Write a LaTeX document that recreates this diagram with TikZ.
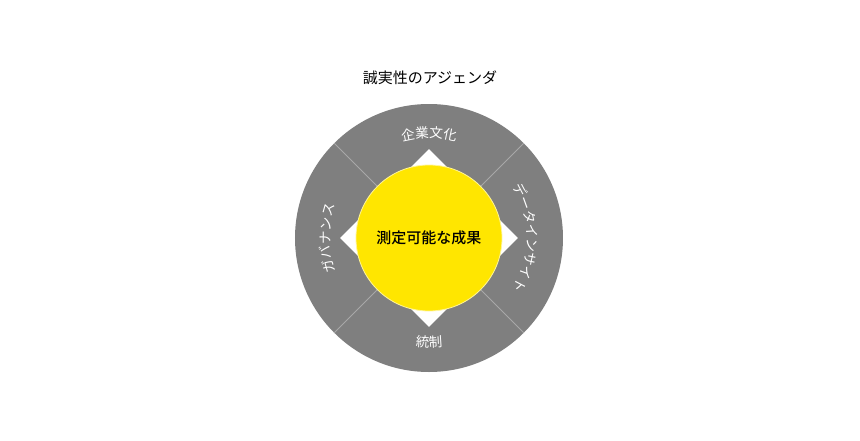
\documentclass[tikz,border=0pt]{standalone}
\usepackage{fontspec}
\setmainfont{Noto Sans CJK JP}
\newfontfamily\mediumfont{Noto Sans CJK JP Medium}
\usepackage{xcolor}
\usetikzlibrary{shapes.geometric, decorations.text}
\definecolor{ringgray}{RGB}{127,127,127}
\definecolor{dividergray}{RGB}{168,168,168}
\definecolor{coreyellow}{RGB}{255,230,0}
\newcommand\ringfont{\fontsize{13.5}{16}\selectfont}

\begin{document}
\begin{tikzpicture}[x=1pt, y=1pt,
    arclabel/.style={decorate, decoration={text along path, text align=center, text color=white, text={#1}}}]
    \useasboundingbox (-429,-202) rectangle (431,238);

    % Title
    \node[font=\fontsize{15}{18}\selectfont] (title) at (1,160) {誠実性のアジェンダ};

    % Ring, gap and core
    \node[circle, fill=ringgray, inner sep=0pt, minimum size=268pt] (ring) at (0,0) {};
    \node[diamond, fill=white, inner sep=0pt, minimum size=178pt] (gap) at (0,0) {};
    \node[circle, fill=coreyellow, draw=white!60!coreyellow, line width=0.8pt, inner sep=0pt, minimum size=146pt,
          font=\mediumfont\fontsize{15}{18}\selectfont] (core) at (0,0) {測定可能な成果};

    % Dividers
    \foreach \a in {45,135,225,315}
        \draw[dividergray, line width=0.8pt] (core.\a) -- (ring.\a);

    % Ring labels
    \path[arclabel={|\ringfont|企業文化}] (130:100) arc[start angle=130, end angle=50, radius=100];
    \path[arclabel={|\ringfont|データインサイト}] (40:98) arc[start angle=40, end angle=-40, radius=98];
    \path[arclabel={|\ringfont|ガバナンス}] (215:99) arc[start angle=215, end angle=145, radius=99];
    \path[arclabel={|\ringfont|統制}] (235:109) arc[start angle=235, end angle=305, radius=109];
\end{tikzpicture}
\end{document}
